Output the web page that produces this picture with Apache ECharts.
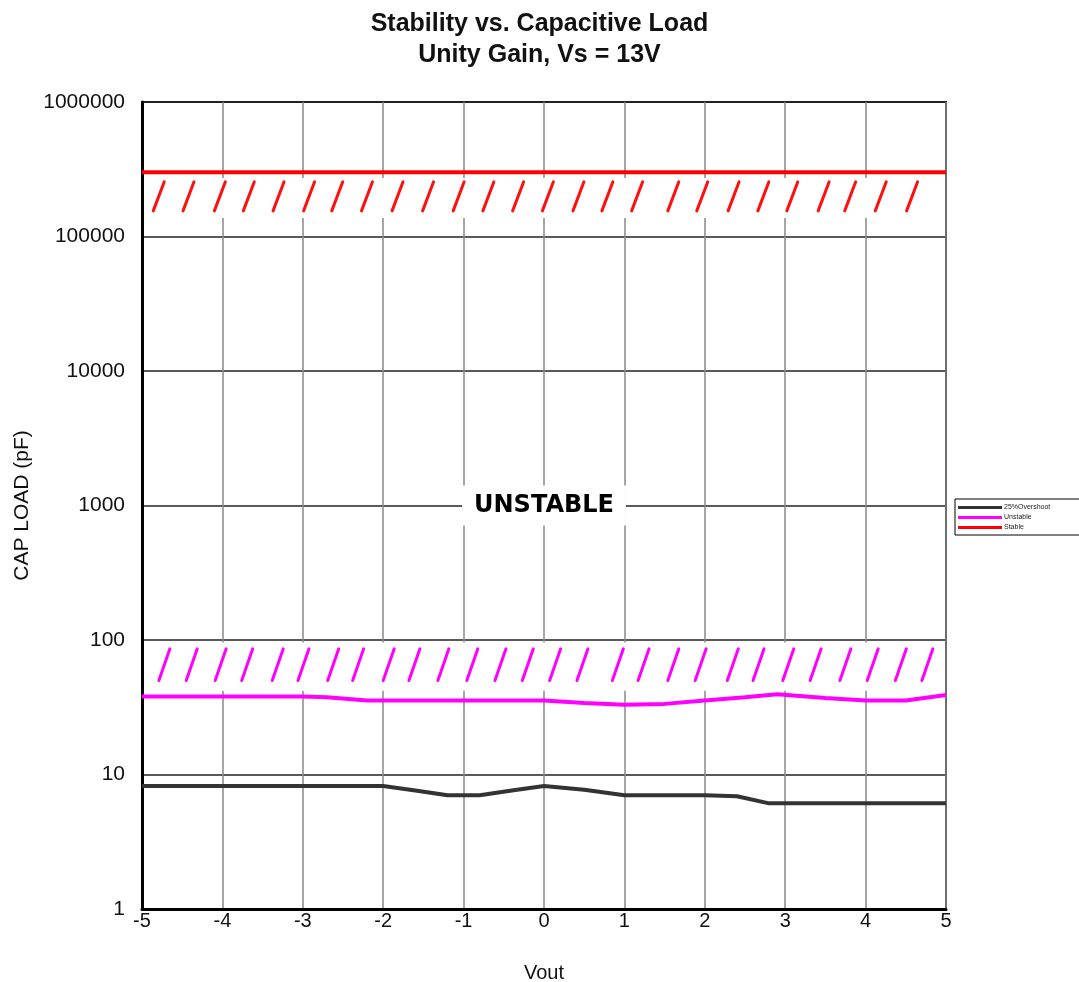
<!DOCTYPE html>
<html>
<head>
<meta charset="utf-8">
<style>
  html, body { margin: 0; padding: 0; background: #fff; }
  #chart { width: 1079px; height: 982px; }
</style>
<script src="https://cdn.jsdelivr.net/npm/echarts@6/dist/echarts.min.js"></script>
</head>
<body>
<div id="chart"></div>
<script>
// Values (Vout in volts, load in pF)
const overshootVout = [-5, -4, -3, -2, -1.6, -1.2, -0.8, -0.4, 0, 0.5, 1, 2, 2.4, 2.8, 3, 4, 5];
const overshootPF = [8.2, 8.2, 8.2, 8.2, 7.6, 7.0, 7.0, 7.6, 8.2, 7.7, 7.0, 7.0, 6.9, 6.1, 6.1, 6.1, 6.1];

const unstableVout = [-5, -4, -3, -2.7, -2.2, -1, 0, 0.5, 1, 1.5, 2, 2.5, 2.9, 3.5, 4, 4.5, 5];
const unstablePF = [38, 38, 38, 37.5, 35.5, 35.5, 35.5, 34, 33, 33.5, 35.5, 37.5, 39.5, 37, 35.5, 35.5, 39];

const stableVout = [-5, 5];
const stablePF = [300000, 300000];

// hatch marks: start Vout of each stroke, and the load range it spans
const stableHatchVout = [-4.86, -4.49, -4.10, -3.74, -3.37, -2.99, -2.64, -2.27, -1.89, -1.51, -1.13, -0.76, -0.39,
  -0.02, 0.36, 0.72, 1.09, 1.54, 1.90, 2.29, 2.66, 3.02, 3.41, 3.74, 4.12, 4.51];
const stableHatchPF = [155000, 255000];
const unstableHatchVout = [-4.79, -4.45, -4.09, -3.76, -3.38, -3.06, -2.69, -2.38, -2.00, -1.68, -1.32, -0.96, -0.61,
  -0.27, 0.07, 0.41, 0.85, 1.17, 1.54, 1.88, 2.28, 2.60, 2.97, 3.31, 3.68, 4.02, 4.37, 4.70];
const unstableHatchPF = [50, 86];

// white bands behind the hatching
const stableBandPF = [137000, 272000];
const unstableBandPF = [42, 96];

const unstableLabelAt = [0, 1000];
const seriesNames = ['25%Overshoot', 'Unstable', 'Stable'];

const xMin = -5, xMax = 5;

function zip(xs, ys) {
  return xs.map((x, i) => [x, ys[i]]);
}

function bandItem(params, api) {
  const tl = api.coord([xMin, api.value(1)]);
  const br = api.coord([xMax, api.value(0)]);
  return {
    type: 'rect',
    shape: { x: tl[0] + 2, y: tl[1], width: br[0] - tl[0] - 4, height: br[1] - tl[1] },
    style: { fill: '#fff' }
  };
}

function hatchRenderer(color) {
  return (params, api) => {
    const p1 = api.coord([api.value(0), api.value(1)]);
    const p2 = api.coord([api.value(0), api.value(2)]);
    return {
      type: 'line',
      shape: { x1: p1[0], y1: p1[1], x2: p2[0] + 11, y2: p2[1] },
      style: { stroke: color, lineWidth: 3, lineCap: 'round' }
    };
  };
}

const chart = echarts.init(document.getElementById('chart'));

chart.setOption({
  animation: false,
  textStyle: { fontFamily: 'Liberation Sans, Arial, sans-serif' },
  title: {
    text: 'Stability vs. Capacitive Load\nUnity Gain, Vs = 13V',
    left: 'center',
    top: 4,
    textStyle: { fontSize: 25, fontWeight: 'bold', color: '#111', lineHeight: 31 }
  },
  legend: {
    data: seriesNames,
    orient: 'vertical',
    left: 955,
    top: 499,
    icon: 'rect',
    itemWidth: 44,
    itemHeight: 3,
    itemGap: 1,
    padding: [4, 40, 3, 3],
    borderColor: '#000',
    borderWidth: 1,
    textStyle: { fontSize: 7, color: '#222', lineHeight: 9, padding: [0, 0, 0, -3] }
  },
  grid: {
    left: 142,
    right: 133,
    top: 102,
    bottom: 73,
    outerBoundsMode: 'none',
    show: true,
    borderColor: '#222',
    borderWidth: 2
  },
  xAxis: {
    type: 'value',
    min: xMin,
    max: xMax,
    interval: 1,
    name: 'Vout',
    nameLocation: 'middle',
    nameGap: 54,
    nameTextStyle: { fontSize: 20, color: '#111' },
    axisLine: { onZero: false, lineStyle: { color: '#000', width: 3 } },
    axisTick: { show: false },
    axisLabel: { fontSize: 20, color: '#111', margin: 2 },
    splitLine: { lineStyle: { color: '#888', width: 1.5 } }
  },
  yAxis: {
    type: 'log',
    logBase: 10,
    min: 1,
    max: 1000000,
    name: 'CAP LOAD (pF)',
    nameLocation: 'middle',
    nameGap: 104,
    nameTextStyle: { fontSize: 21, color: '#111' },
    axisLine: { onZero: false, lineStyle: { color: '#000', width: 3 } },
    axisTick: { show: false },
    axisLabel: { fontSize: 21, color: '#111', margin: 17, formatter: (v) => String(Math.round(v)) },
    splitLine: { lineStyle: { color: '#222', width: 1.5 } },
    minorSplitLine: { show: false }
  },
  series: [
    {
      type: 'custom',
      name: 'bands',
      z: 1,
      silent: true,
      renderItem: bandItem,
      data: [stableBandPF, unstableBandPF]
    },
    {
      type: 'custom',
      name: 'stableHatch',
      z: 2,
      silent: true,
      renderItem: hatchRenderer('#ff1010'),
      data: stableHatchVout.map((x) => [x, stableHatchPF[0], stableHatchPF[1]])
    },
    {
      type: 'custom',
      name: 'unstableHatch',
      z: 2,
      silent: true,
      renderItem: hatchRenderer('#ff00ff'),
      data: unstableHatchVout.map((x) => [x, unstableHatchPF[0], unstableHatchPF[1]])
    },
    {
      type: 'scatter',
      name: 'label',
      z: 3,
      symbolSize: 0,
      silent: true,
      itemStyle: { opacity: 1 },
      data: [unstableLabelAt],
      label: {
        show: true,
        position: 'inside',
        formatter: 'UNSTABLE',
        fontFamily: 'DejaVu Sans',
        fontWeight: 900,
        fontSize: 24,
        color: '#000',
        backgroundColor: '#fff',
        padding: [8, 12, 8, 12]
      }
    },
    {
      type: 'line',
      name: seriesNames[0],
      z: 4,
      showSymbol: false,
      color: '#333',
      lineStyle: { color: '#333', width: 4 },
      data: zip(overshootVout, overshootPF)
    },
    {
      type: 'line',
      name: seriesNames[1],
      z: 4,
      showSymbol: false,
      color: '#ff00ff',
      lineStyle: { color: '#ff00ff', width: 4 },
      data: zip(unstableVout, unstablePF)
    },
    {
      type: 'line',
      name: seriesNames[2],
      z: 4,
      showSymbol: false,
      color: '#ff0000',
      lineStyle: { color: '#ff0000', width: 4 },
      data: zip(stableVout, stablePF)
    }
  ]
});
</script>
</body>
</html>
